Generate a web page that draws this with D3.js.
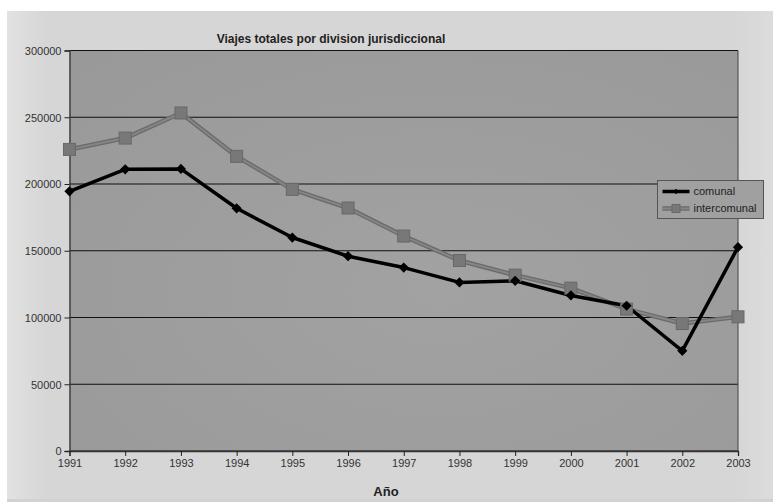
<!DOCTYPE html>
<html>
<head>
<meta charset="utf-8">
<script src="https://cdn.jsdelivr.net/npm/d3@7"></script>
<style>
  body { margin: 0; background: #fff; }
  svg { display: block; font-family: "Liberation Sans", Arial, sans-serif; }
</style>
</head>
<body>
<div id="chart"></div>
<script>
'use strict';

// data
const years = [1991, 1992, 1993, 1994, 1995, 1996, 1997, 1998, 1999, 2000, 2001, 2002, 2003];
const comunal = [194500, 211000, 211300, 181800, 159900, 145900, 137400, 126300, 127500, 116500, 108800, 75000, 152700];
const intercomunal = [225900, 234400, 253200, 220700, 196000, 182000, 161000, 142700, 131700, 122000, 106300, 95500, 100500];
const yTicks = [0, 50000, 100000, 150000, 200000, 250000, 300000];
const seriesNames = ["comunal", "intercomunal"];

const W = 773, H = 502;
let margin = { top: 50.5, right: 35, bottom: 51, left: 69.5 },
    width = W - margin.left - margin.right,
    height = H - margin.top - margin.bottom;

let svg = d3.select("#chart").append("svg")
    .attr("width", W)
    .attr("height", H);

let defs = svg.append("defs");
let bgGrad = defs.append("linearGradient").attr("id", "bgGrad")
    .attr("x1", "0").attr("x2", "1").attr("y1", "0").attr("y2", "0");
bgGrad.append("stop").attr("offset", "0").attr("stop-color", "#e2e2e2");
bgGrad.append("stop").attr("offset", "0.05").attr("stop-color", "#d6d6d6");
bgGrad.append("stop").attr("offset", "0.95").attr("stop-color", "#d6d6d6");
bgGrad.append("stop").attr("offset", "1").attr("stop-color", "#dcdcdc");

let plotGrad = defs.append("radialGradient").attr("id", "plotGrad")
    .attr("cx", "0.55").attr("cy", "0.6").attr("r", "0.8");
plotGrad.append("stop").attr("offset", "0").attr("stop-color", "#a2a2a2");
plotGrad.append("stop").attr("offset", "1").attr("stop-color", "#999999");

// outer panel
svg.append("rect")
    .attr("x", 7).attr("y", 11)
    .attr("width", W - 7).attr("height", H - 11 - 3)
    .attr("fill", "url(#bgGrad)");
svg.append("rect")
    .attr("x", 7).attr("y", H - 3)
    .attr("width", W - 7).attr("height", 3)
    .attr("fill", "#d2d2d2");

let g = svg.append("g")
    .attr("transform", "translate(" + margin.left + "," + margin.top + ")");

let x = d3.scaleLinear()
    .domain([years[0], years[years.length - 1]])
    .range([0, width]);

let y = d3.scaleLinear()
    .domain([0, 300000])
    .range([height, 0]);

g.append("rect")
    .attr("width", width).attr("height", height)
    .attr("fill", "url(#plotGrad)");

// gridlines
g.selectAll(".grid")
    .data(yTicks)
    .enter().append("line")
    .attr("class", "grid")
    .attr("x1", 0).attr("x2", width)
    .attr("y1", d => y(d)).attr("y2", d => y(d))
    .attr("stroke", "#111").attr("stroke-width", 1.2);

// right frame
g.append("line")
    .attr("x1", width).attr("x2", width)
    .attr("y1", 0).attr("y2", height)
    .attr("stroke", "#444").attr("stroke-width", 1);

let yAxis = d3.axisLeft(y).tickValues(yTicks).tickSize(5).tickPadding(3)
    .tickFormat(d => String(d));
let xAxis = d3.axisBottom(x).tickValues(years).tickSize(5).tickPadding(3)
    .tickFormat(d => String(d));

let ya = g.append("g").attr("class", "y axis").call(yAxis);
let xa = g.append("g").attr("class", "x axis")
    .attr("transform", "translate(0," + height + ")")
    .call(xAxis);

[ya, xa].forEach(a => {
    a.attr("color", "#333");
    a.select(".domain").attr("stroke", "#333").attr("stroke-width", 1.3);
    a.selectAll(".tick line").attr("stroke", "#222");
    a.selectAll("text")
        .attr("fill", "#333")
        .style("font-size", "11px")
        .style("font-family", "'Liberation Sans', Arial, sans-serif");
});
ya.selectAll("text").attr("dy", "0.35em");

let line = d3.line()
    .x((d, i) => x(years[i]))
    .y(d => y(d));

// intercomunal
g.append("path")
    .datum(intercomunal)
    .attr("d", line)
    .attr("fill", "none")
    .attr("stroke", "#6a6a6a")
    .attr("stroke-width", 4.5)
    .attr("stroke-linejoin", "round");
g.append("path")
    .datum(intercomunal)
    .attr("d", line)
    .attr("fill", "none")
    .attr("stroke", "#858585")
    .attr("stroke-width", 2)
    .attr("stroke-linejoin", "round");

// comunal
g.append("path")
    .datum(comunal)
    .attr("d", line)
    .attr("fill", "none")
    .attr("stroke", "#000")
    .attr("stroke-width", 3.5)
    .attr("stroke-linejoin", "round");

g.selectAll(".sq")
    .data(intercomunal)
    .enter().append("rect")
    .attr("class", "sq")
    .attr("x", (d, i) => x(years[i]) - 6)
    .attr("y", d => y(d) - 6)
    .attr("width", 12).attr("height", 12)
    .attr("fill", "#787878")
    .attr("stroke", "#686868")
    .attr("stroke-width", 1);

// square diamonds (rotated square)
let diamond = d3.symbol().type(d3.symbolSquare).size(52);
g.selectAll(".dm")
    .data(comunal)
    .enter().append("path")
    .attr("class", "dm")
    .attr("d", diamond)
    .attr("transform", (d, i) => "translate(" + x(years[i]) + "," + y(d) + ") rotate(45)")
    .attr("fill", "#000");

// title
svg.append("text")
    .attr("x", 331).attr("y", 43)
    .attr("text-anchor", "middle")
    .attr("fill", "#222")
    .style("font-size", "12px")
    .style("font-weight", "bold")
    .text("Viajes totales por division jurisdiccional");

svg.append("text")
    .attr("x", 386).attr("y", 496)
    .attr("text-anchor", "middle")
    .attr("fill", "#222")
    .style("font-size", "13px")
    .style("font-weight", "bold")
    .text("Año");

// legend
let lg = svg.append("g").attr("transform", "translate(657.5,180.5)");
lg.append("rect")
    .attr("width", 106).attr("height", 38)
    .attr("fill", "#a0a0a0")
    .attr("stroke", "#555").attr("stroke-width", 1);

let items = lg.selectAll(".item")
    .data(seriesNames)
    .enter().append("g")
    .attr("transform", (d, i) => "translate(5," + (11 + i * 17) + ")");

items.each(function (d, i) {
    let it = d3.select(this);
    if (i === 0) {
        it.append("line").attr("x1", 0).attr("x2", 27).attr("y1", 0).attr("y2", 0)
            .attr("stroke", "#000").attr("stroke-width", 3.5);
        it.append("path").attr("d", d3.symbol().type(d3.symbolSquare).size(14))
            .attr("transform", "translate(13.5,0) rotate(45)").attr("fill", "#000");
    } else {
        it.append("line").attr("x1", 0).attr("x2", 27).attr("y1", 0).attr("y2", 0)
            .attr("stroke", "#6a6a6a").attr("stroke-width", 4.5);
        it.append("line").attr("x1", 0).attr("x2", 27).attr("y1", 0).attr("y2", 0)
            .attr("stroke", "#858585").attr("stroke-width", 2);
        it.append("rect").attr("x", 9.5).attr("y", -4).attr("width", 8).attr("height", 8)
            .attr("fill", "#787878").attr("stroke", "#686868");
    }
    it.append("text")
        .attr("x", 31).attr("y", 0).attr("dy", "0.35em")
        .attr("fill", "#222")
        .style("font-size", "11px")
        .text(d);
});
</script>
</body>
</html>
